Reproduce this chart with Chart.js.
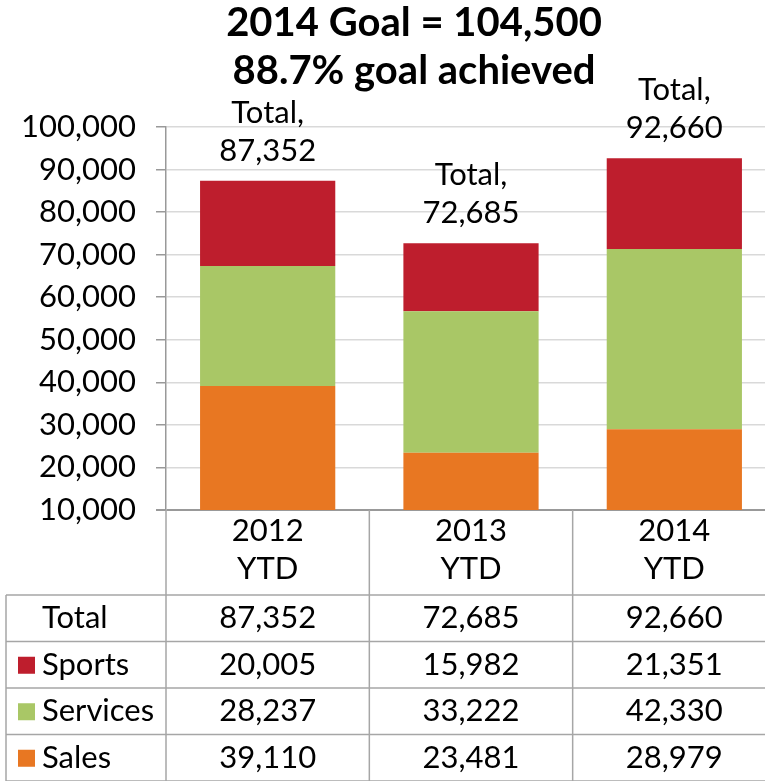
<!DOCTYPE html>
<html>
<head>
<meta charset="utf-8">
<script src="https://cdn.jsdelivr.net/npm/chart.js@4/dist/chart.umd.min.js"></script>
<style>
  html, body { margin: 0; padding: 0; background: #fff; overflow: hidden; }
  #wrap { width: 776px; height: 781px; }
</style>
</head>
<body>
<div id="wrap"><canvas id="goalChart" width="776" height="781"></canvas></div>
<script>
// data
const years = [['2012', 'YTD'], ['2013', 'YTD'], ['2014', 'YTD']];
const sales = [39110, 23481, 28979];
const services = [28237, 33222, 42330];
const sports = [20005, 15982, 21351];
const titleLines = ['2014 Goal = 104,500', '88.7% goal achieved'];

const totals = sales.map((v, i) => v + services[i] + sports[i]);

const FONT = 'Lato, "Open Sans", sans-serif';
const colors = { sales: '#E87722', services: '#A9C766', sports: '#BE1E2D' };
const lineColor = '#a6a6a6';

// two-line title, centred a bit right of the canvas middle like the original
const goalTitle = {
  id: 'goalTitle',
  afterDraw(chart) {
    const ctx = chart.ctx;
    ctx.save();
    ctx.font = 'bold 40px ' + FONT;
    ctx.fillStyle = '#000';
    ctx.textAlign = 'center';
    ctx.textBaseline = 'middle';
    titleLines.forEach((t, i) => ctx.fillText(t, 414, 23 + i * 48));
    ctx.restore();
  }
};

// "Total, xx" labels above each stack
const totalLabels = {
  id: 'totalLabels',
  afterDatasetsDraw(chart) {
    const ctx = chart.ctx;
    const xs = chart.scales.x, ys = chart.scales.y;
    ctx.save();
    ctx.font = '31px ' + FONT;
    ctx.fillStyle = '#000';
    ctx.textAlign = 'center';
    ctx.textBaseline = 'middle';
    totals.forEach((t, i) => {
      const x = xs.getPixelForValue(i);
      const y = ys.getPixelForValue(t);
      ctx.fillText('Total,', x, y - 68);
      ctx.fillText(t.toLocaleString('en-US'), x, y - 30);
    });
    ctx.restore();
  }
};

// data table under the chart
const dataTable = {
  id: 'dataTable',
  afterDraw(chart) {
    const ctx = chart.ctx;
    const xs = chart.scales.x;
    const area = chart.chartArea;
    const half = (xs.getPixelForValue(1) - xs.getPixelForValue(0)) / 2;
    const bounds = [area.left];
    years.forEach((y, i) => bounds.push(xs.getPixelForValue(i) + half));
    const top = 595, rowH = 46.5, leftX = 6;
    const rows = [
      { label: 'Total', vals: totals },
      { label: 'Sports', vals: sports, color: colors.sports },
      { label: 'Services', vals: services, color: colors.services },
      { label: 'Sales', vals: sales, color: colors.sales }
    ];
    const bottom = top + rowH * rows.length;

    ctx.save();
    ctx.strokeStyle = lineColor;
    ctx.lineWidth = 1.5;
    ctx.beginPath();
    bounds.forEach(b => { ctx.moveTo(b, area.bottom); ctx.lineTo(b, bottom); });
    ctx.moveTo(leftX, top); ctx.lineTo(leftX, bottom);
    for (let k = 0; k <= rows.length; k++) {
      ctx.moveTo(leftX, top + k * rowH);
      ctx.lineTo(bounds[bounds.length - 1], top + k * rowH);
    }
    ctx.stroke();

    ctx.font = '31px ' + FONT;
    ctx.fillStyle = '#000';
    ctx.textBaseline = 'middle';
    rows.forEach((r, k) => {
      const cy = top + rowH * (k + 0.5);
      if (r.color) {
        ctx.fillStyle = r.color;
        ctx.fillRect(18, cy - 8, 17, 17);
        ctx.fillStyle = '#000';
      }
      ctx.textAlign = 'left';
      ctx.fillText(r.label, 42, cy);
      ctx.textAlign = 'center';
      r.vals.forEach((v, i) => ctx.fillText(v.toLocaleString('en-US'), xs.getPixelForValue(i), cy));
    });
    ctx.restore();
  }
};

new Chart(document.getElementById('goalChart').getContext('2d'), {
  type: 'bar',
  data: {
    labels: years,
    datasets: [
      { label: 'Sales', data: sales, backgroundColor: colors.sales },
      { label: 'Services', data: services, backgroundColor: colors.services },
      { label: 'Sports', data: sports, backgroundColor: colors.sports }
    ]
  },
  options: {
    responsive: false,
    animation: false,
    barPercentage: 0.665,
    categoryPercentage: 1,
    layout: { padding: { left: 0, right: 0, top: 127, bottom: 186 } },
    plugins: {
      legend: { display: false },
      tooltip: { enabled: false },
      title: { display: false }
    },
    scales: {
      x: {
        stacked: true,
        grid: { display: false, drawTicks: false },
        border: { display: false },
        ticks: {
          color: '#000',
          padding: 2,
          font: { family: FONT, size: 31, lineHeight: 1.22 }
        },
        afterFit(scale) { scale.height = 85; }
      },
      y: {
        stacked: true,
        min: 10000,
        max: 100000,
        grid: {
          color: ctx => ctx.tick && ctx.tick.value === 10000 ? '#999' : '#d9d9d9',
          lineWidth: ctx => ctx.tick && ctx.tick.value === 10000 ? 2 : 1.5,
          tickColor: '#999',
          tickLength: 10
        },
        border: { display: true, color: '#999', width: 1.5 },
        ticks: {
          stepSize: 10000,
          color: '#000',
          padding: 20,
          font: { family: FONT, size: 31 },
          callback: v => v.toLocaleString('en-US')
        },
        afterFit(scale) { scale.width = 166; }
      }
    }
  },
  plugins: [goalTitle, totalLabels, dataTable]
});
</script>
</body>
</html>
